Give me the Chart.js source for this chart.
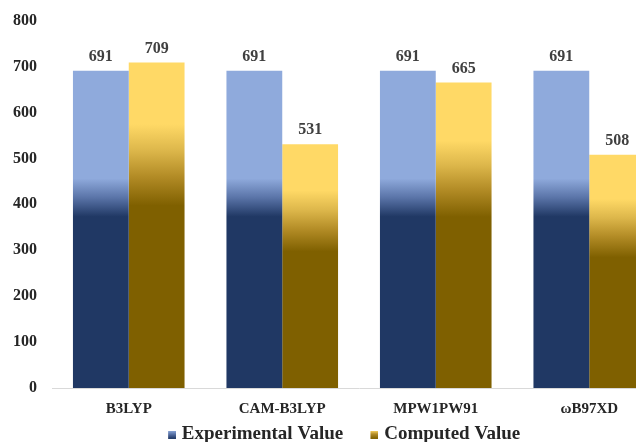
<!DOCTYPE html>
<html>
<head>
<meta charset="utf-8">
<script src="https://cdn.jsdelivr.net/npm/chart.js@4/dist/chart.umd.min.js"></script>
<style>
  html, body { margin: 0; padding: 0; background: #ffffff; overflow: hidden; }
  #wrap { position: relative; width: 690px; height: 458px; margin-top: -4px; }
</style>
</head>
<body>
<div id="wrap"><canvas id="chart" width="690" height="458"></canvas></div>
<script>
// Functionals compared against the measured value
const methods = ['B3LYP', 'CAM-B3LYP', 'MPW1PW91', '\u03c9B97XD'];
const experimentalValues = [691, 691, 691, 691];
const computedValues = [709, 531, 665, 508];
const yTicks = [0, 100, 200, 300, 400, 500, 600, 700, 800];

const FONT = '"Liberation Serif", "Times New Roman", serif';

// Colour stops of each series' vertical fill, top (0) to bottom (1) of a bar
const blueStops = [[0, '#8FAADC'], [0.34, '#8FAADC'], [0.40, '#5A74A8'], [0.46, '#203864'], [1, '#203864']];
const goldStops = [[0, '#FFD966'], [0.19, '#FFD966'], [0.27, '#DDB74B'], [0.35, '#B38C26'], [0.44, '#7F6000'], [1, '#7F6000']];

function barGradient(stops) {
  return function (ctx) {
    const chart = ctx.chart;
    const y = chart.scales.y;
    if (!chart.chartArea || !y || ctx.raw === undefined) return stops[0][1];
    const top = y.getPixelForValue(ctx.raw);
    const base = y.getPixelForValue(0);
    const g = chart.ctx.createLinearGradient(0, top, 0, base);
    stops.forEach(s => g.addColorStop(s[0], s[1]));
    return g;
  };
}

// Legend marker: an 8px gradient square sitting at the right end of a
// transparent strip, so the square lands just before the label text
function legendSwatch(stops) {
  const c = document.createElement('canvas');
  c.width = 34; c.height = 8;
  const x = c.getContext('2d');
  const g = x.createLinearGradient(0, 0, 0, 8);
  g.addColorStop(0, stops[0][1]);
  g.addColorStop(0.45, stops[Math.floor(stops.length / 2)][1]);
  g.addColorStop(1, stops[stops.length - 1][1]);
  x.fillStyle = g;
  x.fillRect(26, 0, 8, 8);
  return c;
}

// Value written above every bar
const valueLabels = {
  id: 'valueLabels',
  afterDatasetsDraw(chart) {
    const ctx = chart.ctx;
    ctx.save();
    ctx.font = 'bold 16px ' + FONT;
    ctx.fillStyle = '#404040';
    ctx.textAlign = 'center';
    ctx.textBaseline = 'bottom';
    chart.data.datasets.forEach((ds, i) => {
      chart.getDatasetMeta(i).data.forEach((bar, j) => {
        ctx.fillText(String(ds.data[j]), bar.x, bar.y - 6);
      });
    });
    ctx.restore();
  }
};

new Chart(document.getElementById('chart'), {
  type: 'bar',
  data: {
    labels: methods,
    datasets: [
      {
        label: 'Experimental Value',
        data: experimentalValues,
        backgroundColor: barGradient(blueStops),
        borderWidth: 0,
        pointStyle: legendSwatch(blueStops)
      },
      {
        label: 'Computed Value',
        data: computedValues,
        backgroundColor: barGradient(goldStops),
        borderWidth: 0,
        pointStyle: legendSwatch(goldStops)
      }
    ]
  },
  options: {
    responsive: false,
    animation: false,
    layout: { padding: { top: 14, left: 0, right: 24, bottom: 0 } },
    datasets: { bar: { barPercentage: 1.0, categoryPercentage: 0.727 } },
    scales: {
      x: {
        afterFit(scale) { scale.height = 32; },
        grid: { display: false, drawTicks: false },
        border: { display: true, color: '#D9D9D9', width: 1 },
        ticks: {
          padding: 12,
          color: '#262626',
          font: { family: FONT, size: 15, weight: 'bold' }
        }
      },
      y: {
        min: 0,
        max: 800,
        afterFit(scale) { scale.width = 52; },
        afterBuildTicks(scale) { scale.ticks = yTicks.map(v => ({ value: v })); },
        grid: { display: false, drawTicks: false },
        border: { display: false },
        ticks: {
          padding: 15,
          color: '#262626',
          font: { family: FONT, size: 16, weight: 'bold' }
        }
      }
    },
    plugins: {
      legend: {
        position: 'bottom',
        labels: {
          usePointStyle: true,
          pointStyleWidth: 26.5,
          boxHeight: 8,
          padding: 5,
          color: '#262626',
          font: { family: FONT, size: 19, weight: 'bold' }
        }
      },
      tooltip: { enabled: false }
    }
  },
  plugins: [valueLabels]
});
</script>
</body>
</html>
